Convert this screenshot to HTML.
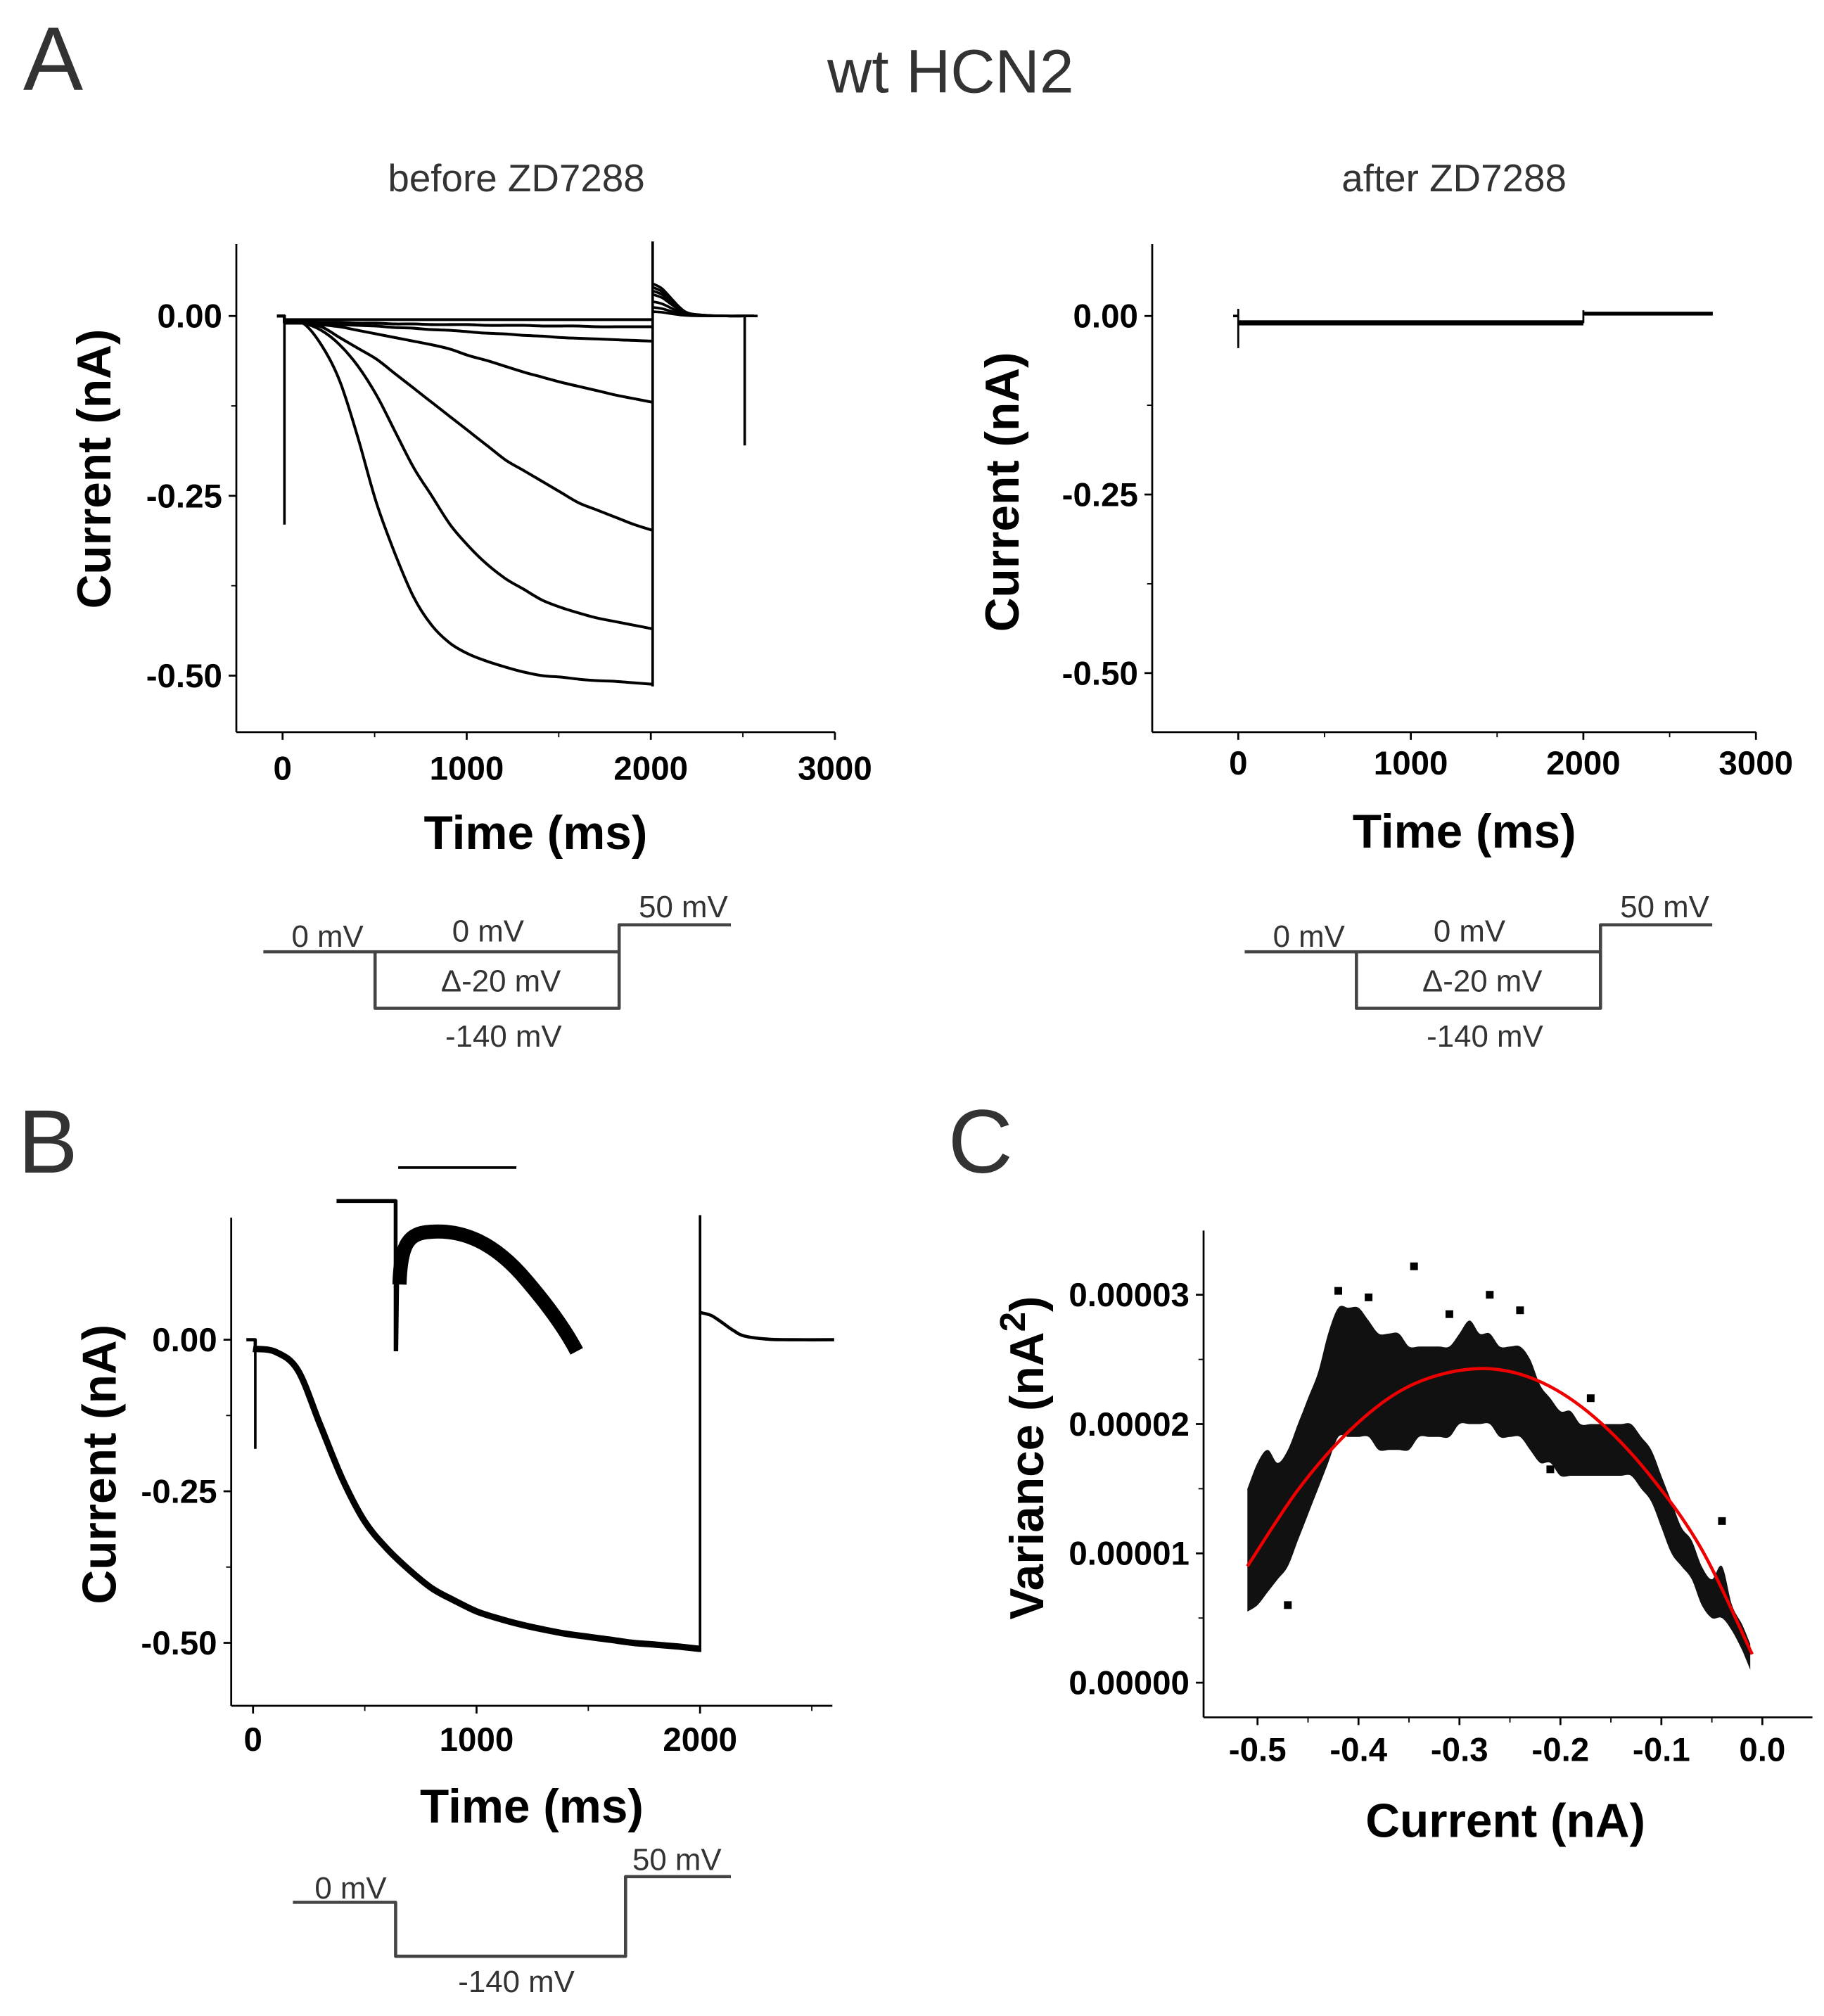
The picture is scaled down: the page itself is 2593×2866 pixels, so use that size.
<!DOCTYPE html>
<html><head><meta charset="utf-8"><style>
html,body{margin:0;padding:0;background:#fff}
svg{display:block}
text{font-family:"Liberation Sans",Arial,sans-serif}
.tk{font-weight:bold;font-size:26px;fill:#000}
.ttl{font-weight:bold;font-size:37px;fill:#000}
.pl{font-size:24px;fill:#333}
</style></head><body>
<svg id="fig" width="2593" height="2866" viewBox="0 0 1420 1569.5" preserveAspectRatio="none" xmlns="http://www.w3.org/2000/svg">
<text x="18" y="70" font-size="70" fill="#333">A</text>
<text x="740" y="72" font-size="48" fill="#333" text-anchor="middle">wt HCN2</text>
<text x="402" y="149" font-size="30" fill="#333" text-anchor="middle">before ZD7288</text>
<text x="1132" y="149" font-size="30" fill="#333" text-anchor="middle">after ZD7288</text>
<text x="14" y="913" font-size="70" fill="#333">B</text>
<text x="738" y="913" font-size="70" fill="#333">C</text>
<g id="gA1"></g>
<g id="gA2"></g>
<g id="gB"></g>
<g id="gC"></g>
</svg>
<script>
// ---- data ----
const traceTimes = [0,100,200,300,400,500,600,700,800,900,1000,1100,1200,1300,1400,1500,1600,1700,1800,1900,2000];
const traceA1 = [-0.005,-0.005,-0.005,-0.005,-0.005,-0.005,-0.005,-0.005,-0.005,-0.005,-0.005,-0.005,-0.005,-0.005,-0.005,-0.005,-0.005,-0.005,-0.005,-0.005,-0.005];
const traceA2 = [-0.008,-0.008,-0.009,-0.009,-0.01,-0.01,-0.011,-0.011,-0.012,-0.012,-0.012,-0.013,-0.013,-0.013,-0.014,-0.014,-0.014,-0.015,-0.015,-0.015,-0.015];
const traceA3 = [-0.01,-0.01,-0.011,-0.012,-0.013,-0.014,-0.016,-0.017,-0.019,-0.02,-0.022,-0.024,-0.025,-0.027,-0.028,-0.03,-0.031,-0.032,-0.033,-0.034,-0.035];
const traceA4 = [-0.01,-0.01,-0.012,-0.015,-0.02,-0.025,-0.03,-0.035,-0.04,-0.046,-0.055,-0.062,-0.07,-0.078,-0.085,-0.092,-0.098,-0.104,-0.11,-0.115,-0.12];
const traceA5 = [-0.01,-0.01,-0.015,-0.03,-0.045,-0.06,-0.08,-0.10,-0.12,-0.14,-0.16,-0.18,-0.20,-0.215,-0.23,-0.245,-0.26,-0.27,-0.28,-0.29,-0.298];
const traceA6 = [-0.01,-0.01,-0.02,-0.04,-0.07,-0.11,-0.16,-0.21,-0.25,-0.29,-0.32,-0.345,-0.365,-0.38,-0.395,-0.405,-0.413,-0.42,-0.425,-0.43,-0.435];
const traceA7 = [-0.01,-0.01,-0.04,-0.09,-0.17,-0.26,-0.33,-0.39,-0.43,-0.455,-0.47,-0.48,-0.488,-0.495,-0.5,-0.502,-0.505,-0.507,-0.508,-0.51,-0.512];
const tailTimes = [2000,2050,2100,2150,2200,2300,2400,2500,2550];
const tailPeaks = [0.045,0.04,0.035,0.03,0.02,0.012,0.006];
const tailShape = [1,0.85,0.55,0.25,0.08,0.02,0,0,0];
const traceB = [-0.015,-0.02,-0.05,-0.14,-0.23,-0.30,-0.345,-0.38,-0.41,-0.43,-0.448,-0.46,-0.47,-0.478,-0.485,-0.49,-0.495,-0.5,-0.503,-0.506,-0.51];
const tailBTimes = [2000,2050,2100,2150,2200,2300,2400,2600];
const tailBValues = [0.045,0.04,0.028,0.015,0.006,0.001,0,0];
const xTicksA = [0,1000,2000,3000];
const xTicksB = [0,1000,2000];
const yTicksI = [0,-0.25,-0.5];
const yTickLabelsI = ["0.00","-0.25","-0.50"];
// panel C
const varBinsI = [-0.51,-0.50,-0.49,-0.48,-0.47,-0.46,-0.45,-0.44,-0.43,-0.42,-0.41,-0.40,-0.39,-0.38,-0.37,-0.36,-0.35,-0.34,-0.33,-0.32,-0.31,-0.30,-0.29,-0.28,-0.27,-0.26,-0.25,-0.24,-0.23,-0.22,-0.21,-0.20,-0.19,-0.18,-0.17,-0.16,-0.15,-0.14,-0.13,-0.12,-0.11,-0.10,-0.09,-0.08,-0.07,-0.06,-0.05,-0.04,-0.03,-0.02,-0.012];
const varLow = [0.55,0.6,0.7,0.8,0.9,1.1,1.3,1.5,1.7,1.9,1.9,1.9,1.9,1.8,1.8,1.8,1.8,1.9,1.9,1.9,1.9,2.0,2.0,2.0,2.0,1.9,1.9,1.9,1.8,1.7,1.7,1.6,1.6,1.6,1.6,1.6,1.6,1.6,1.6,1.5,1.4,1.2,1.0,0.9,0.8,0.6,0.5,0.5,0.4,0.25,0.1];
const varHigh = [1.5,1.7,1.8,1.7,1.8,2.0,2.2,2.4,2.7,2.9,2.9,2.9,2.8,2.7,2.7,2.7,2.6,2.6,2.6,2.6,2.6,2.7,2.8,2.7,2.7,2.6,2.6,2.6,2.5,2.3,2.2,2.1,2.1,2.0,2.0,2.0,2.0,2.0,2.0,1.9,1.8,1.6,1.4,1.2,1.1,0.9,0.8,0.9,0.6,0.45,0.3];
const outlierI = [-0.345,-0.42,-0.39,-0.27,-0.24,-0.17,-0.04,-0.47,-0.31,-0.21];
const outlierV = [3.22,3.03,2.98,3.0,2.88,2.2,1.25,0.6,2.85,1.65];
const fitI = [-0.51,-0.46,-0.41,-0.36,-0.31,-0.26,-0.21,-0.16,-0.11,-0.06,-0.01];
const fitV = [0.90,1.49,1.94,2.25,2.40,2.42,2.29,2.01,1.59,1.03,0.22];
const xTicksC = [-0.5,-0.4,-0.3,-0.2,-0.1,0.0];
const xTickLabelsC = ["-0.5","-0.4","-0.3","-0.2","-0.1","0.0"];
const yTicksC = [0,1,2,3];
const yTickLabelsC = ["0.00000","0.00001","0.00002","0.00003"];

const NS="http://www.w3.org/2000/svg";
function mk(parent,tag,attrs,txt){const e=document.createElementNS(NS,tag);for(const k in attrs)e.setAttribute(k,attrs[k]);if(txt!==undefined)e.textContent=txt;parent.appendChild(e);return e;}
function lin(d0,d1,r0,r1){return v=>r0+(v-d0)*(r1-r0)/(d1-d0);}
function splineD(P,closed){
  let d='M'+P[0][0].toFixed(1)+','+P[0][1].toFixed(1);
  for(let i=0;i<P.length-1;i++){const p0=P[Math.max(0,i-1)],p1=P[i],p2=P[i+1],p3=P[Math.min(P.length-1,i+2)];
    const c1=[p1[0]+(p2[0]-p0[0])/6,p1[1]+(p2[1]-p0[1])/6],c2=[p2[0]-(p3[0]-p1[0])/6,p2[1]-(p3[1]-p1[1])/6];
    d+=` C${c1[0].toFixed(1)},${c1[1].toFixed(1)} ${c2[0].toFixed(1)},${c2[1].toFixed(1)} ${p2[0].toFixed(1)},${p2[1].toFixed(1)}`;}
  return d;
}
function smooth(g,P,sw,col){return mk(g,'path',{d:splineD(P),fill:'none',stroke:col||'#000','stroke-width':sw,'stroke-linejoin':'round'});}

function axes(g,o){
  let e=mk(g,'line',{x1:o.x0,y1:o.yt,x2:o.x0,y2:o.yb,stroke:'#000','stroke-width':1.5});
  
  e=mk(g,'line',{x1:o.x0,y1:o.yb,x2:o.x1,y2:o.yb,stroke:'#000','stroke-width':1.5});
  
  o.xt.forEach((v,i)=>{const x=o.sx(v);
    mk(g,'line',{x1:x,y1:o.yb,x2:x,y2:o.yb+6,stroke:'#000','stroke-width':1.5});
    const t=mk(g,'text',{x:x,y:o.yb+o.xly,'text-anchor':'middle',class:'tk'},o.xl?o.xl[i]:String(v));
    
    if(o.xm){const xm=o.sx(v+o.xm);if(xm<o.x1)mk(g,'line',{x1:xm,y1:o.yb,x2:xm,y2:o.yb+4,stroke:'#000','stroke-width':1});}
  });
  o.yt_.forEach((v,i)=>{const y=o.sy(v);
    mk(g,'line',{x1:o.x0-6,y1:y,x2:o.x0,y2:y,stroke:'#000','stroke-width':1.5});
    const t=mk(g,'text',{x:o.x0-11,y:y+9,'text-anchor':'end',class:'tk'},o.yl[i]);
    
    if(o.ym!==undefined){const ym=o.sy(v+o.ym);if(ym>o.yt&&ym<o.yb)mk(g,'line',{x1:o.x0-4,y1:ym,x2:o.x0,y2:ym,stroke:'#000','stroke-width':1});}
  });
  let t=mk(g,'text',{x:o.xtx,y:o.xty,'text-anchor':'middle',class:'ttl'},o.xtitle);
  
  if(o.ytitle){t=mk(g,'text',{x:0,y:0,'text-anchor':'middle',class:'ttl',transform:`translate(${o.ytx},${o.yty}) rotate(-90)`},o.ytitle);
  }
}
function poly(g,pts,sw,col){return mk(g,'polyline',{points:pts.map(p=>p[0].toFixed(1)+','+p[1].toFixed(1)).join(' '),fill:'none',stroke:col||'#000','stroke-width':sw,'stroke-linejoin':'round'});}
function protocol(g,dx,dy,boxed,labels){
  const pts=[[205,741],[292,741],[292,785],[482,785],[482,720],[569,720]].map(p=>[p[0]+dx,p[1]+dy]);
  const p=poly(g,pts,2.5,'#444');
  if(boxed){const l=mk(g,'line',{x1:292+dx,y1:741+dy,x2:482+dx,y2:741+dy,stroke:'#444','stroke-width':2.5});}
  labels.forEach(L=>{const t=mk(g,'text',{x:L[1]+dx,y:L[2]+dy,'text-anchor':'middle',class:'pl'},L[0]);});
}

// ---- Panel A before ----
(function(){
  const g=document.getElementById('gA1');
  const sx=lin(0,3000,220,650), sy=lin(0,-0.5,246,526);
  axes(g,{x0:184,x1:650,yt:190,yb:570,sx,sy,xt:xTicksA,xm:500,yt_:yTicksI,yl:yTickLabelsI,ym:-0.125,xly:37,xtitle:'Time (ms)',xtx:417,xty:661,ytitle:'Current (nA)',ytx:86,yty:365});
  const traces=[traceA1,traceA2,traceA3,traceA4,traceA5,traceA6,traceA7];
  traces.forEach((tr,k)=>{
    poly(g,[[sx(-30),sy(0)],[sx(10),sy(0)],[sx(10),sy(tr[0])]],2.2);
    const pts=traceTimes.map((t,i)=>[sx(t+10),sy(tr[i])]);
    const p=smooth(g,pts,2.2);
    const tp=tailTimes.map((t,i)=>[sx(t+10),sy(tailPeaks[k]*tailShape[i])]);
    const q=smooth(g,tp,2);
  });
  let l=mk(g,'line',{x1:sx(10),y1:sy(0),x2:sx(10),y2:sy(-0.29),stroke:'#000','stroke-width':2});
  l=mk(g,'line',{x1:sx(2010),y1:188,x2:sx(2010),y2:sy(-0.515),stroke:'#000','stroke-width':2});
  l=mk(g,'line',{x1:sx(2510),y1:sy(0),x2:sx(2510),y2:sy(-0.18),stroke:'#000','stroke-width':2});
  l=mk(g,'line',{x1:sx(2510),y1:sy(0),x2:sx(2580),y2:sy(0),stroke:'#000','stroke-width':2});
  protocol(g,0,0,true,[['0 mV',255,737],['0 mV',380,733],['Δ-20 mV',390,772],['-140 mV',392,815],['50 mV',532,714]]);
})();

// ---- Panel A after ----
(function(){
  const g=document.getElementById('gA2');
  const sx=lin(0,3000,964,1367), sy=lin(0,-0.5,246,524);
  axes(g,{x0:897,x1:1367,yt:190,yb:570,sx,sy,xt:xTicksA,xm:500,yt_:yTicksI,yl:yTickLabelsI,ym:-0.125,xly:33,xtitle:'Time (ms)',xtx:1140,xty:660,ytitle:'Current (nA)',ytx:793,yty:383});
  poly(g,[[sx(-30),sy(0)],[sx(0),sy(0)]],2);
  let l=mk(g,'line',{x1:sx(0),y1:sy(0.01),x2:sx(0),y2:sy(-0.045),stroke:'#000','stroke-width':1.5});
  let r=mk(g,'rect',{x:sx(0),y:sy(-0.006),width:sx(2000)-sx(0),height:4,fill:'#000'});
  r=mk(g,'rect',{x:sx(2000),y:sy(0.006),width:sx(2750)-sx(2000),height:3,fill:'#000'});
  l=mk(g,'line',{x1:sx(2000),y1:sy(0.008),x2:sx(2000),y2:sy(-0.01),stroke:'#000','stroke-width':1.5});
  protocol(g,764,0,true,[['0 mV',255,737],['0 mV',380,733],['Δ-20 mV',390,772],['-140 mV',392,815],['50 mV',532,714]]);
})();

// ---- Panel B ----
(function(){
  const g=document.getElementById('gB');
  const sx=lin(0,1000,197,371), sy=lin(0,-0.5,1043,1279);
  axes(g,{x0:180,x1:648,yt:948,yb:1328,sx,sy,xt:xTicksB,xm:500,yt_:yTicksI,yl:yTickLabelsI,ym:-0.125,xly:35,xtitle:'Time (ms)',xtx:414,xty:1419,ytitle:'Current (nA)',ytx:90,yty:1140});
  poly(g,[[sx(-30),sy(0)],[sx(10),sy(0)],[sx(10),sy(traceB[0])]],2.5);
  const pts=traceTimes.map((t,i)=>[sx(t),sy(traceB[i])]);
  let p=smooth(g,pts,5);
  let l=mk(g,'line',{x1:sx(10),y1:sy(0),x2:sx(10),y2:sy(-0.18),stroke:'#000','stroke-width':2});
  l=mk(g,'line',{x1:sx(2000),y1:946,x2:sx(2000),y2:sy(-0.515),stroke:'#000','stroke-width':2});
  p=smooth(g,tailBTimes.map((t,i)=>[sx(t),sy(tailBValues[i])]),2.5);
  // inset
  p=poly(g,[[262,935],[308,935],[308,1052]],3);
  const ip=mk(g,'path',{d:'M311,1000 C312,968 318,960 335,959 C360,957 385,967 410,997 C428,1018 440,1035 449,1052',fill:'none',stroke:'#000','stroke-width':11});
  
  mk(g,'path',{d:'M309,1052 L310,975',stroke:'#000','stroke-width':2,fill:'none'});
  l=mk(g,'line',{x1:310,y1:909,x2:402,y2:909,stroke:'#000','stroke-width':2});
  const pts2=[[228,1481],[308,1481],[308,1523],[487,1523],[487,1461],[569,1461]];
  p=poly(g,pts2,2.5,'#444');
  [['0 mV',273,1478],['-140 mV',402,1551],['50 mV',527,1456]].forEach(L=>{const t=mk(g,'text',{x:L[1],y:L[2],'text-anchor':'middle',class:'pl'},L[0]);});
})();

// ---- Panel C ----
(function(){
  const g=document.getElementById('gC');
  const sx=lin(-0.5,0,979,1372), sy=lin(0,3,1310,1008);
  axes(g,{x0:937,x1:1411,yt:958,yb:1337,sx,sy,xt:xTicksC,xl:xTickLabelsC,xm:0.05,yt_:yTicksC,yl:yTickLabelsC,ym:0.5,xly:34,xtitle:'Current (nA)',xtx:1172,xty:1430,ytitle:'',ytx:812,yty:1135});
  const yt=mk(g,'text',{x:0,y:0,'text-anchor':'middle',class:'ttl',transform:'translate(812,1135) rotate(-90)'});
  
  yt.appendChild(document.createTextNode('Variance (nA'));
  mk(yt,'tspan',{dy:-14,'font-size':28},'2');
  mk(yt,'tspan',{dy:14},')');
  const up=varBinsI.map((v,i)=>[sx(v),sy(varHigh[i])]), dn=varBinsI.map((v,i)=>[sx(v),sy(varLow[i])]).reverse();
  const dUp=splineD(up), dDn=splineD(dn).replace(/^M/,' L');
  const band=mk(g,'path',{d:dUp+dDn+' Z',fill:'#111'});
  
  outlierI.forEach((v,i)=>{const r=mk(g,'rect',{x:sx(v)-3,y:sy(outlierV[i])-3,width:6,height:6,fill:'#000'});
    });
  const P=fitI.map((v,i)=>[sx(v),sy(fitV[i])]);
  const f=mk(g,'path',{d:splineD(P),fill:'none',stroke:'#e00','stroke-width':2.5});
  
})();
</script>
</body></html>
